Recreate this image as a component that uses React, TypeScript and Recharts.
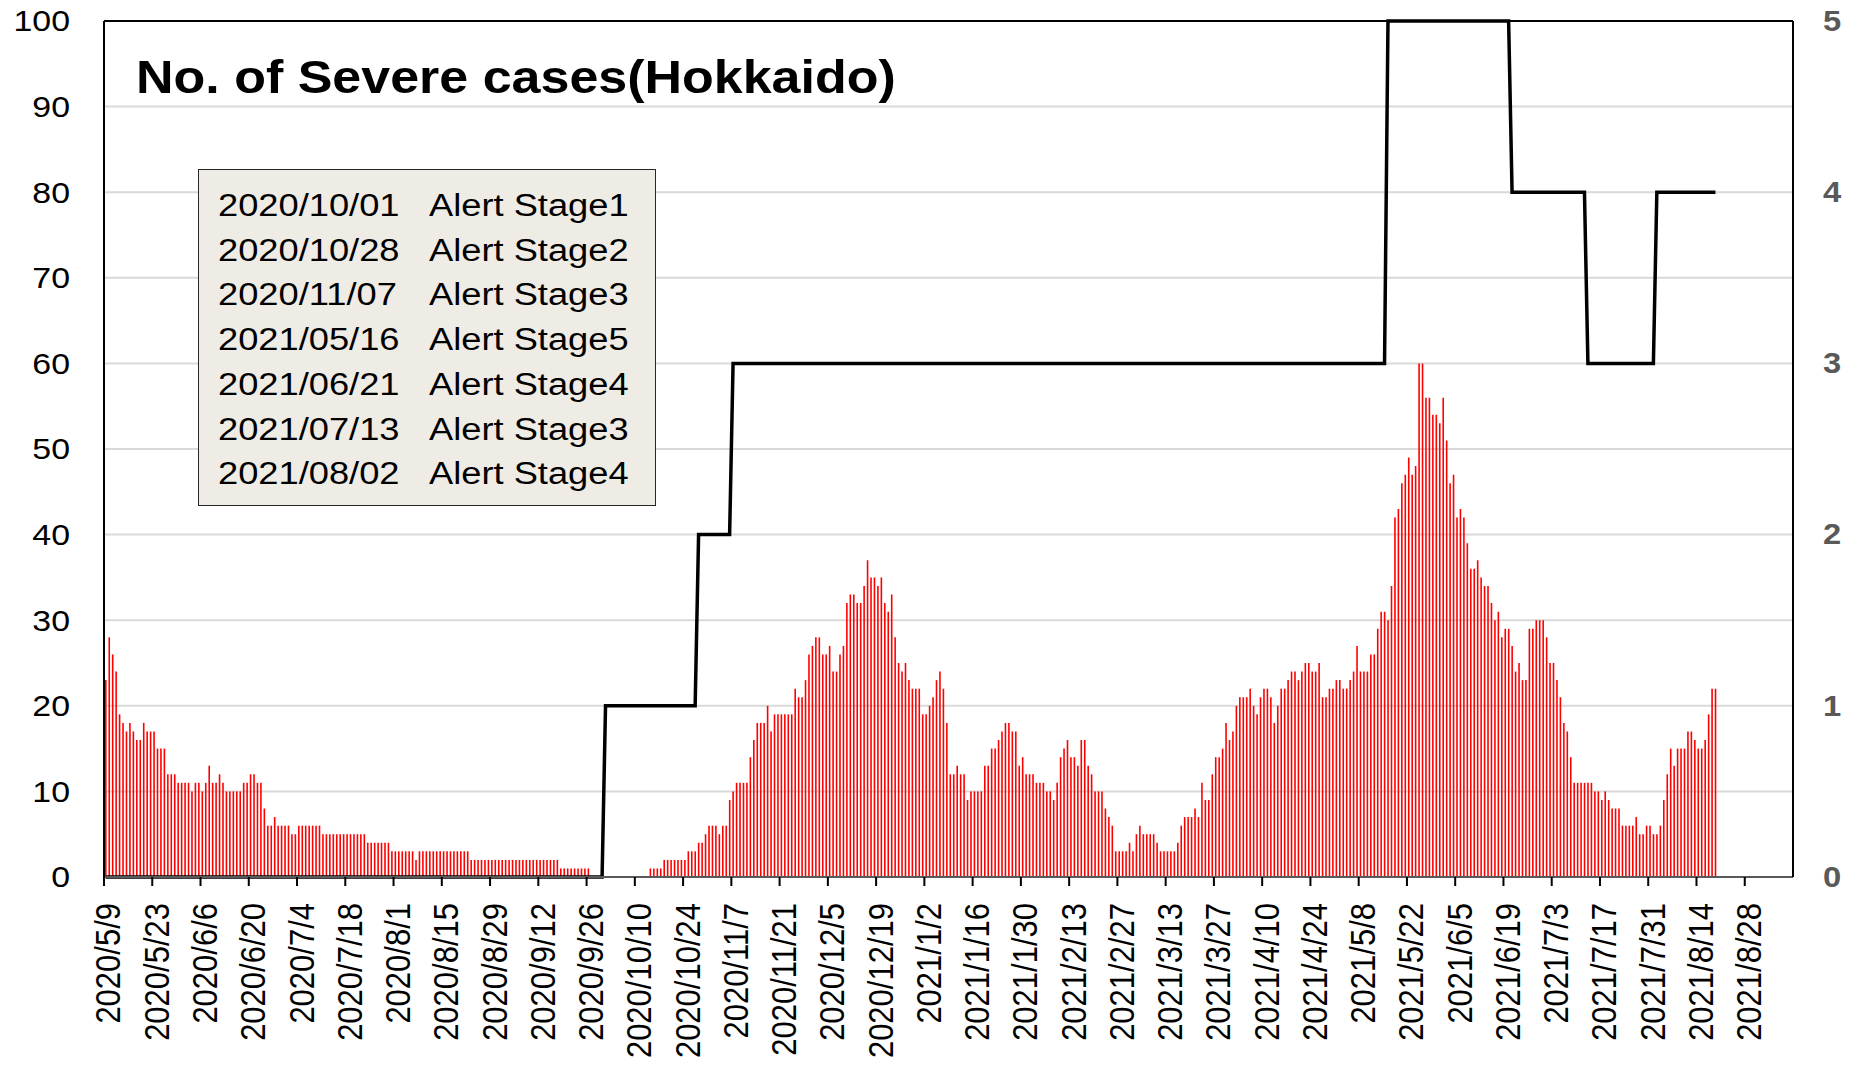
import React from 'react';
import { ComposedChart, Bar, Line, XAxis, YAxis, CartesianGrid, ReferenceLine } from 'recharts';

const FONT = '"Liberation Sans", Arial, sans-serif';
const W = 1842;
const H = 1066;
const PLOT_TOP = 21;
const PLOT_BOTTOM = 877;
const START = Date.UTC(2020, 4, 9);
const DAY = 86400000;
const AXIS_DAYS = 490;

// daily number of severe cases, 2020/5/9 .. 2021/8/19
const severeCases = [
  23, 28, 26, 24, 19, 18, 17, 18, 17, 16, 16, 18, 17, 17, 17, 15, 15, 15, 12, 12,
  12, 11, 11, 11, 11, 10, 11, 11, 10, 11, 13, 11, 11, 12, 11, 10, 10, 10, 10, 10,
  11, 11, 12, 12, 11, 11, 8, 6, 6, 7, 6, 6, 6, 6, 5, 5, 6, 6, 6, 6,
  6, 6, 6, 5, 5, 5, 5, 5, 5, 5, 5, 5, 5, 5, 5, 5, 4, 4, 4, 4,
  4, 4, 4, 3, 3, 3, 3, 3, 3, 3, 2, 3, 3, 3, 3, 3, 3, 3, 3, 3,
  3, 3, 3, 3, 3, 3, 2, 2, 2, 2, 2, 2, 2, 2, 2, 2, 2, 2, 2, 2,
  2, 2, 2, 2, 2, 2, 2, 2, 2, 2, 2, 2, 1, 1, 1, 1, 1, 1, 1, 1,
  1, 0, 0, 0, 0, 0, 0, 0, 0, 0, 0, 0, 0, 0, 0, 0, 0, 0, 1, 1,
  1, 1, 2, 2, 2, 2, 2, 2, 2, 3, 3, 3, 4, 4, 5, 6, 6, 6, 5, 6,
  6, 9, 10, 11, 11, 11, 11, 14, 16, 18, 18, 18, 20, 17, 19, 19, 19, 19, 19, 19,
  22, 21, 21, 23, 26, 27, 28, 28, 26, 26, 27, 24, 24, 26, 27, 32, 33, 33, 32, 32,
  34, 37, 35, 35, 34, 35, 32, 31, 33, 28, 25, 24, 25, 23, 22, 22, 22, 19, 19, 20,
  21, 23, 24, 22, 18, 12, 12, 13, 12, 12, 9, 10, 10, 10, 10, 13, 13, 15, 15, 16,
  17, 18, 18, 17, 17, 13, 14, 12, 12, 12, 11, 11, 11, 10, 10, 9, 11, 14, 15, 16,
  14, 14, 13, 16, 16, 13, 12, 10, 10, 10, 8, 7, 6, 3, 3, 3, 3, 4, 3, 5,
  6, 5, 5, 5, 5, 4, 3, 3, 3, 3, 3, 4, 6, 7, 7, 7, 8, 7, 11, 9,
  9, 12, 14, 14, 15, 18, 16, 17, 20, 21, 21, 21, 22, 20, 19, 21, 22, 22, 21, 18,
  20, 22, 22, 23, 24, 24, 23, 24, 25, 25, 24, 24, 25, 21, 21, 22, 22, 23, 23, 22,
  22, 23, 24, 27, 24, 24, 24, 26, 26, 29, 31, 31, 30, 34, 42, 43, 46, 47, 49, 47,
  48, 60, 60, 56, 56, 54, 54, 53, 56, 51, 46, 47, 42, 43, 42, 39, 36, 36, 37, 35,
  34, 34, 32, 30, 31, 28, 29, 29, 27, 24, 25, 23, 23, 29, 29, 30, 30, 30, 28, 25,
  25, 23, 21, 18, 17, 14, 11, 11, 11, 11, 11, 11, 10, 10, 9, 10, 9, 8, 8, 8,
  6, 6, 6, 6, 7, 5, 5, 6, 6, 5, 5, 6, 9, 12, 15, 13, 15, 15, 15, 17,
  17, 16, 15, 15, 16, 19, 22, 22,
];

const alertChanges = [
  { date: '2020/10/01', stage: 1 },
  { date: '2020/10/28', stage: 2 },
  { date: '2020/11/07', stage: 3 },
  { date: '2021/05/16', stage: 5 },
  { date: '2021/06/21', stage: 4 },
  { date: '2021/07/13', stage: 3 },
  { date: '2021/08/02', stage: 4 },
];

const xTickLabels = [
  '2020/5/9', '2020/5/23', '2020/6/6', '2020/6/20', '2020/7/4', '2020/7/18', '2020/8/1',
  '2020/8/15', '2020/8/29', '2020/9/12', '2020/9/26', '2020/10/10', '2020/10/24', '2020/11/7',
  '2020/11/21', '2020/12/5', '2020/12/19', '2021/1/2', '2021/1/16', '2021/1/30', '2021/2/13',
  '2021/2/27', '2021/3/13', '2021/3/27', '2021/4/10', '2021/4/24', '2021/5/8', '2021/5/22',
  '2021/6/5', '2021/6/19', '2021/7/3', '2021/7/17', '2021/7/31', '2021/8/14', '2021/8/28',
];

const leftTicks = [0, 10, 20, 30, 40, 50, 60, 70, 80, 90, 100];
const rightTicks = [0, 1, 2, 3, 4, 5];

const dayIndex = (s: string) => {
  const [y, m, d] = s.split('/').map(Number);
  return Math.round((Date.UTC(y, m - 1, d) - START) / DAY);
};

const xTicks = xTickLabels.map(dayIndex);

const rows = severeCases.map((v, i) => {
  let stage = 0;
  alertChanges.forEach((c) => {
    if (dayIndex(c.date) <= i) stage = c.stage;
  });
  return { x: i + 0.5, cases: v, stage };
});

const XTick = ({ x, y, payload }: any) => {
  const label = xTickLabels[xTicks.indexOf(payload.value)] ?? '';
  return (
    <text
      transform={`translate(${x + 4.3},${y + 17}) scale(1.13,1) rotate(-90)`}
      textAnchor="end"
      dominantBaseline="central"
      fontSize={31}
      fontFamily={FONT}
      fill="#000"
    >
      {label}
    </text>
  );
};

const LeftTick = ({ x, y, payload }: any) => (
  <text
    transform={`translate(${x - 34},${y}) scale(1.13,1)`}
    textAnchor="end"
    dominantBaseline="central"
    fontSize={30}
    fontFamily={FONT}
    fill="#000"
  >
    {payload.value}
  </text>
);

const RightTick = ({ x, y, payload }: any) => (
  <text
    transform={`translate(${x + 30},${y}) scale(1.13,1)`}
    textAnchor="start"
    dominantBaseline="central"
    fontSize={29}
    fontWeight="bold"
    fontFamily={FONT}
    fill="#595959"
  >
    {payload.value}
  </text>
);

const stretch: React.CSSProperties = {
  display: 'inline-block',
  transform: 'scaleX(1.17)',
  transformOrigin: 'left center',
  position: 'absolute',
  whiteSpace: 'nowrap',
};

const App = () => {
  // pulled up over the body margin so the top labels stay inside the svg
  return (
    <div style={{ position: 'relative', width: W, height: H, marginTop: -8, fontFamily: FONT }}>
      <ComposedChart
        width={W}
        height={H}
        data={rows}
        margin={{ top: PLOT_TOP, right: 0, bottom: 0, left: 0 }}
        style={{ overflow: 'visible' }}
      >
        <CartesianGrid yAxisId="left" vertical={false} stroke="#d9d9d9" strokeWidth={2} />
        <XAxis
          dataKey="x"
          type="number"
          domain={[0, AXIS_DAYS]}
          ticks={xTicks}
          interval={0}
          allowDataOverflow
          height={H - PLOT_BOTTOM}
          tickSize={9}
          tickMargin={0}
          tickLine={{ stroke: '#000', strokeWidth: 2 }}
          axisLine={{ stroke: '#595959', strokeWidth: 2 }}
          tick={(p: any) => <XTick {...p} />}
        />
        <YAxis
          yAxisId="left"
          domain={[0, 100]}
          ticks={leftTicks}
          interval={0}
          width={96}
          tickSize={0}
          tickMargin={0}
          tickLine={false}
          axisLine={{ stroke: '#000', strokeWidth: 2 }}
          tick={(p: any) => <LeftTick {...p} />}
        />
        <YAxis
          yAxisId="right"
          orientation="right"
          domain={[0, 5]}
          ticks={rightTicks}
          interval={0}
          width={W - 1785}
          tickSize={0}
          tickMargin={0}
          tickLine={false}
          axisLine={{ stroke: '#000', strokeWidth: 2 }}
          tick={(p: any) => <RightTick {...p} />}
        />
        <ReferenceLine yAxisId="left" y={100} stroke="#000" strokeWidth={2} />
        <Bar yAxisId="left" dataKey="cases" fill="#ff0000" barSize={1.6} isAnimationActive={false} />
        <Line
          yAxisId="right"
          dataKey="stage"
          type="linear"
          stroke="#000"
          strokeWidth={3.5}
          dot={false}
          isAnimationActive={false}
        />
      </ComposedChart>

      <div
        style={{
          position: 'absolute',
          left: 128,
          top: 54,
          fontSize: 46,
          lineHeight: '46px',
          fontWeight: 'bold',
          color: '#000',
          whiteSpace: 'nowrap',
          transform: 'scaleX(1.13)',
          transformOrigin: 'left top',
        }}
      >
        No. of Severe cases(Hokkaido)
      </div>

      <div
        style={{
          position: 'absolute',
          left: 190,
          top: 169,
          width: 456,
          height: 335,
          background: '#eeece5',
          border: '1px solid #262626',
          fontSize: 31,
          color: '#000',
        }}
      >
        {alertChanges.map((c, i) => (
          <div key={c.date} style={{ position: 'absolute', left: 0, top: 16 + i * 44.7, height: 40, lineHeight: '40px', width: '100%' }}>
            <span style={{ ...stretch, left: 19 }}>{c.date}</span>
            <span style={{ ...stretch, left: 230 }}>{`Alert Stage${c.stage}`}</span>
          </div>
        ))}
      </div>
    </div>
  );
};

export default App;
